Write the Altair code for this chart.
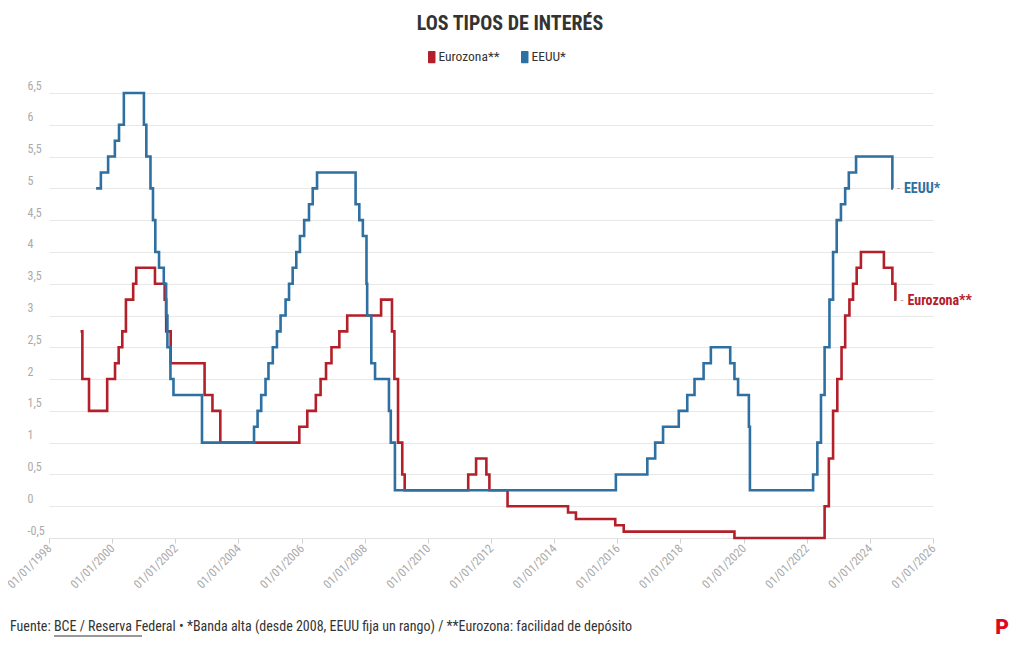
import altair as alt
import pandas as pd

FONT = "Roboto Condensed, Liberation Sans Narrow, DejaVu Sans Condensed, Roboto, sans-serif"

# Eurozona: facilidad de depósito (%)
ez_dates = ["1999-01-01", "1999-01-22", "1999-04-09", "1999-11-05", "2000-02-04", "2000-03-17",
            "2000-04-28", "2000-06-09", "2000-09-01", "2000-10-06", "2001-05-11", "2001-08-31",
            "2001-09-18", "2001-11-09", "2002-12-06", "2003-03-07", "2003-06-06", "2005-12-06",
            "2006-03-08", "2006-06-15", "2006-08-09", "2006-10-11", "2006-12-13", "2007-03-14",
            "2007-06-13", "2008-07-09", "2008-11-12", "2008-12-10", "2009-01-21", "2009-03-11",
            "2009-04-08", "2011-04-13", "2011-07-13", "2011-11-09", "2011-12-14", "2012-07-11",
            "2014-06-11", "2014-09-10", "2015-12-09", "2016-03-16", "2019-09-18", "2022-07-27",
            "2022-09-14", "2022-11-02", "2022-12-21", "2023-02-08", "2023-03-22", "2023-05-10",
            "2023-06-21", "2023-08-02", "2023-09-20", "2024-06-12", "2024-09-18", "2024-10-23",
            "2024-11-05"]
ez_vals = [2.75, 2.00, 1.50, 2.00, 2.25, 2.50,
           2.75, 3.25, 3.50, 3.75, 3.50, 3.25,
           2.75, 2.25, 1.75, 1.50, 1.00, 1.25,
           1.50, 1.75, 2.00, 2.25, 2.50, 2.75,
           3.00, 3.25, 2.75, 2.00, 1.00, 0.50,
           0.25, 0.50, 0.75, 0.50, 0.25, 0.00,
           -0.10, -0.20, -0.30, -0.40, -0.50, 0.00,
           0.75, 1.50, 2.00, 2.50, 3.00, 3.25,
           3.50, 3.75, 4.00, 3.75, 3.50, 3.25,
           3.25]

# EEUU: banda alta (%)
us_dates = ["1999-06-30", "1999-08-24", "1999-11-16", "2000-02-02", "2000-03-21", "2000-05-16",
            "2001-01-03", "2001-01-31", "2001-03-20", "2001-04-18", "2001-05-15", "2001-06-27",
            "2001-08-21", "2001-09-17", "2001-10-02", "2001-11-06", "2001-12-11", "2002-11-06",
            "2004-06-30", "2004-08-10", "2004-09-21", "2004-11-10", "2004-12-14", "2005-02-02",
            "2005-03-22", "2005-05-03", "2005-06-30", "2005-08-09", "2005-09-20", "2005-11-01",
            "2005-12-13", "2006-01-31", "2006-03-28", "2006-05-10", "2006-06-29", "2007-09-18",
            "2007-10-31", "2007-12-11", "2008-01-22", "2008-01-30", "2008-03-18", "2008-04-30",
            "2008-10-08", "2008-10-29", "2008-12-16", "2015-12-16", "2016-12-14", "2017-03-15",
            "2017-06-14", "2017-12-13", "2018-03-21", "2018-06-13", "2018-09-26", "2018-12-19",
            "2019-07-31", "2019-09-18", "2019-10-30", "2020-03-03", "2020-03-15", "2022-03-16",
            "2022-05-04", "2022-06-15", "2022-07-27", "2022-09-21", "2022-11-02", "2022-12-14",
            "2023-02-01", "2023-03-22", "2023-05-03", "2023-07-26", "2024-09-18", "2024-09-25"]
us_vals = [5.00, 5.25, 5.50, 5.75, 6.00, 6.50,
           6.00, 5.50, 5.00, 4.50, 4.00, 3.75,
           3.50, 3.00, 2.50, 2.00, 1.75, 1.00,
           1.25, 1.50, 1.75, 2.00, 2.25, 2.50,
           2.75, 3.00, 3.25, 3.50, 3.75, 4.00,
           4.25, 4.50, 4.75, 5.00, 5.25, 4.75,
           4.50, 4.25, 3.50, 3.00, 2.25, 2.00,
           1.50, 1.00, 0.25, 0.50, 0.75, 1.00,
           1.25, 1.50, 1.75, 2.00, 2.25, 2.50,
           2.25, 2.00, 1.75, 1.25, 0.25, 0.50,
           1.00, 1.75, 2.50, 3.25, 4.00, 4.50,
           4.75, 5.00, 5.25, 5.50, 5.00, 5.00]

series = ["Eurozona**", "EEUU*"]
colors = ["#b3202a", "#2e70a1"]
y_ticks = [-0.5, 0, 0.5, 1, 1.5, 2, 2.5, 3, 3.5, 4, 4.5, 5, 5.5, 6, 6.5]
x_tick_years = list(range(1998, 2027, 2))

title_text = "LOS TIPOS DE INTERÉS"
footer_text = ("Fuente: BCE / Reserva Federal • *Banda alta (desde 2008, EEUU fija un rango) "
               "/ **Eurozona: facilidad de depósito")

df = pd.concat([
    pd.DataFrame({"fecha": ez_dates, "tipo": ez_vals, "serie": series[0]}),
    pd.DataFrame({"fecha": us_dates, "tipo": us_vals, "serie": series[1]}),
])
ends = pd.DataFrame({
    "fecha": [ez_dates[-1], us_dates[-1]],
    "tipo": [ez_vals[-1], us_vals[-1]],
    "serie": series,
    "label": ["Eurozona**", "EEUU*"],
})

x_enc = alt.X("fecha:T",
              scale=alt.Scale(domain=[alt.DateTime(year=1998, month=1, date=1),
                                      alt.DateTime(year=2026, month=1, date=1)]),
              axis=alt.Axis(values=[alt.DateTime(year=y, month=1, date=1) for y in x_tick_years],
                            tickCount=len(x_tick_years),
                            format="%d/%m/%Y", labelAngle=315, labelAlign="right",
                            labelBaseline="middle", labelColor="#aaaaaa", labelFontSize=12,
                            labelFont=FONT, labelPadding=3, tickSize=5, tickColor="#d0d0d0",
                            domainColor="#e2e2e2", grid=False, title=None, labelOverlap=False,
                            labelFlush=False))
y_enc = alt.Y("tipo:Q",
              scale=alt.Scale(domain=[-0.5, 6.5], nice=False, zero=False),
              axis=alt.Axis(values=y_ticks, tickCount=len(y_ticks),
                            labelExpr="replace(toString(datum.value), '.', ',')",
                            labelAlign="left", labelBaseline="alphabetic", labelPadding=22,
                            labelOffset=-4, ticks=False, tickSize=0, domain=False,
                            labelOverlap=False, labelColor="#aaaaaa", labelFontSize=12,
                            labelFont=FONT, gridColor="#e8e8e8", title=None))
color_enc = alt.Color("serie:N", scale=alt.Scale(domain=series, range=colors),
                      legend=alt.Legend(title=None, orient="none", direction="horizontal",
                                        legendX=376, legendY=-43,
                                        symbolType="M-0.6,-0.88Q-0.6,-1,-0.48,-1H0.48Q0.6,-1,0.6,-0.88V0.88Q0.6,1,0.48,1H-0.48Q-0.6,1,-0.6,0.88Z",
                                        symbolSize=156, symbolStrokeWidth=0, symbolOpacity=1,
                                        labelFont=FONT, labelFontSize=13.5, labelColor="#333333",
                                        labelOffset=0, columnPadding=18))

lines = alt.Chart(df).mark_line(interpolate="step-after", strokeWidth=2.6).encode(
    x=x_enc, y=y_enc, color=color_enc, detail="serie:N")

dash = alt.Chart(ends).mark_text(text="-", align="left", baseline="middle", dx=4,
                                 font=FONT, fontSize=12, color="#aaaaaa").encode(
    x="fecha:T", y="tipo:Q")
labels = alt.Chart(ends).mark_text(align="left", baseline="middle", dx=11, dy=1,
                                   font=FONT, fontSize=14, fontWeight="bold").encode(
    x="fecha:T", y="tipo:Q", text="label:N",
    color=alt.Color("serie:N", scale=alt.Scale(domain=series, range=colors), legend=None))

footer_df = pd.DataFrame({"t": [footer_text]})
footer = alt.Chart(footer_df).mark_text(align="left", baseline="middle", font=FONT,
                                        fontSize=14, color="#333333").encode(
    x=alt.value(-39), y=alt.value(534), text="t:N")

# underline of the source link
underline = alt.Chart(footer_df).mark_rule(color="#333333", strokeWidth=1).encode(
    x=alt.value(5), x2=alt.value(93), y=alt.value(543))

logo_df = pd.DataFrame({"t": ["P"]})
logo = alt.Chart(logo_df).mark_text(align="center", baseline="middle", font="Roboto",
                                    fontSize=21, fontWeight=900, color="#e3051b").encode(
    x=alt.value(953), y=alt.value(535), text="t:N")

chart = alt.layer(lines, dash, labels, footer, underline, logo).properties(
    width=884, height=445,
    title=alt.TitleParams(title_text, font=FONT, fontSize=20, fontWeight="bold",
                          color="#333333", anchor="middle", frame="group", dx=19, offset=16),
    autosize=alt.AutoSizeParams(type="none"),
    padding={"left": 41, "top": 85, "right": 79, "bottom": 100},
).configure(background="white").configure_view(stroke=None)

chart.save("out.html", embed_options={"renderer": "svg", "actions": False})
